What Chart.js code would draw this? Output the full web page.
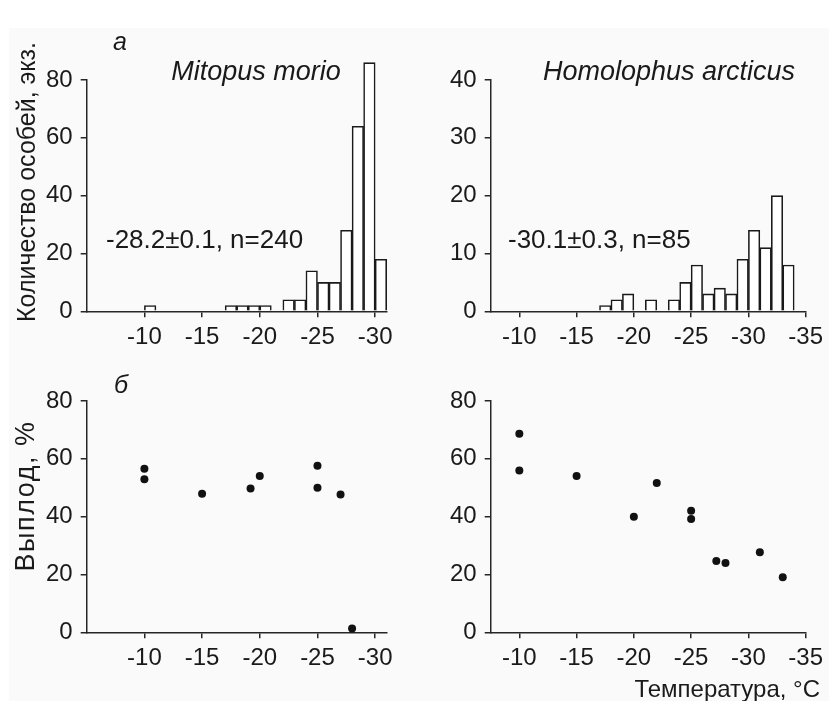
<!DOCTYPE html>
<html>
<head>
<meta charset="utf-8">
<script src="https://cdn.jsdelivr.net/npm/chart.js@4.4.1/dist/chart.umd.min.js"></script>
<style>
  html, body { margin: 0; padding: 0; background: #ffffff; }
  #wrap { position: relative; width: 829px; height: 701px; overflow: hidden; background: #ffffff; }
  #bg { position: absolute; left: 9px; top: 28px; right: 0; bottom: 0; background: #fafafa; }
  canvas { position: absolute; left: 0; top: 0; }
  .lbl { position: absolute; white-space: nowrap; font-family: 'Liberation Sans', Arial, sans-serif; color: #1a1a1a; line-height: 1; }
  .it { font-style: italic; }
  .rot { transform: translate(-50%, -50%) rotate(-90deg); }
</style>
</head>
<body>
<div id="wrap">
  <div id="bg"></div>
  <canvas id="c1" width="829" height="701"></canvas>
  <canvas id="c2" width="829" height="701"></canvas>
  <canvas id="c3" width="829" height="701"></canvas>
  <canvas id="c4" width="829" height="701"></canvas>
</div>
<script>
// ---------- data ----------
const xTicksLeft  = [-10, -15, -20, -25, -30];
const xTicksRight = [-10, -15, -20, -25, -30, -35];

// histogram bins (1 °C wide, given by bin centre) and counts
const mitopusBinCentres = [-10.5, -17.5, -18.5, -19.5, -20.5, -22.5, -23.5, -24.5, -25.5, -26.5, -27.5, -28.5, -29.5, -30.5];
const mitopusCounts     = [2, 2, 2, 2, 2, 4, 4, 14, 10, 10, 28, 64, 86, 18];

const homolophusBinCentres = [-17.5, -18.5, -19.5, -21.5, -23.5, -24.5, -25.5, -26.5, -27.5, -28.5, -29.5, -30.5, -31.5, -32.5, -33.5];
const homolophusCounts     = [1, 2, 3, 2, 2, 5, 8, 3, 4, 3, 9, 14, 11, 20, 8];

// emergence (%) vs temperature
const mitopusTemps     = [-10, -10, -15, -19.2, -20, -25, -25, -27, -28];
const mitopusEmergence = [56.6, 52.9, 47.9, 49.7, 54.1, 57.6, 50.0, 47.7, 1.3];

const homolophusTemps     = [-10, -10, -15, -20, -22, -25, -25, -27.2, -28, -31, -33];
const homolophusEmergence = [68.7, 56.0, 54.1, 40.0, 51.6, 42.0, 39.2, 24.7, 24.0, 27.7, 19.0];

// ---------- helpers ----------
const FONT = "'Liberation Sans', Arial, sans-serif";
const W = 829, H = 701;
const Y_W = 60, X_H = 50;
const AX = '#262626';

function pairs(xs, ys) { return xs.map((x, i) => ({ x: x, y: ys[i] })); }

function makeChart(id, type, dataset, area, xMin, xMax, xTicks, yMax, yStep) {
  return new Chart(document.getElementById(id), {
    type: type,
    data: { datasets: [dataset] },
    options: {
      responsive: false,
      animation: false,
      devicePixelRatio: 1,
      layout: { padding: { left: area.l - Y_W, top: area.t, right: W - area.r, bottom: H - area.b - X_H } },
      plugins: { legend: { display: false }, tooltip: { enabled: false } },
      scales: {
        x: {
          type: 'linear', reverse: true, min: xMin, max: xMax, offset: false,
          grid: { display: true, drawOnChartArea: false, drawTicks: true, tickLength: 6, color: AX, lineWidth: 1.5, offset: false },
          border: { display: true, color: AX, width: 1.5 },
          ticks: { color: '#1a1a1a', font: { family: FONT, size: 24 }, padding: 6, maxRotation: 0, autoSkip: false },
          afterBuildTicks: (s) => { s.ticks = xTicks.map(v => ({ value: v })); },
          afterFit: (s) => { s.height = X_H; }
        },
        y: {
          type: 'linear', min: 0, max: yMax,
          grid: { display: true, drawOnChartArea: false, drawTicks: true, tickLength: 6, color: AX, lineWidth: 1.5 },
          border: { display: true, color: AX, width: 1.5 },
          ticks: { stepSize: yStep, color: '#1a1a1a', font: { family: FONT, size: 24 }, padding: 8 },
          afterFit: (s) => { s.width = Y_W; }
        }
      }
    }
  });
}

function barSet(xs, ys) {
  return {
    data: pairs(xs, ys),
    backgroundColor: '#ffffff',
    borderColor: '#1a1a1a',
    borderWidth: 1.6,
    barPercentage: 1,
    categoryPercentage: 1,
    clip: false
  };
}
function dotSet(xs, ys) {
  return {
    data: pairs(xs, ys),
    pointRadius: 4,
    pointBackgroundColor: '#111111',
    pointBorderWidth: 0,
    showLine: false,
    clip: false
  };
}

makeChart('c1', 'bar', barSet(mitopusBinCentres, mitopusCounts),
  { l: 86.7, t: 80, r: 386.7, b: 311.3 }, -31, -5, xTicksLeft, 80, 20);
makeChart('c2', 'bar', barSet(homolophusBinCentres, homolophusCounts),
  { l: 490.7, t: 80, r: 808, b: 311.3 }, -35, -7.5, xTicksRight, 40, 10);
makeChart('c3', 'scatter', dotSet(mitopusTemps, mitopusEmergence),
  { l: 86.7, t: 401, r: 386.7, b: 632.3 }, -31, -5, xTicksLeft, 80, 20);
makeChart('c4', 'scatter', dotSet(homolophusTemps, homolophusEmergence),
  { l: 490.7, t: 401, r: 808, b: 632.3 }, -35, -7.5, xTicksRight, 80, 20);

// ---------- text labels ----------
const wrap = document.getElementById('wrap');
function addText(txt, size, x, baseline, opts) {
  opts = opts || {};
  const d = document.createElement('div');
  d.className = 'lbl' + (opts.italic ? ' it' : '');
  d.textContent = txt;
  d.style.fontSize = size + 'px';
  d.style.top = (baseline - 0.8465 * size) + 'px';
  if (opts.align === 'right') { d.style.right = (W - x) + 'px'; }
  else if (opts.align === 'center') { d.style.left = x + 'px'; d.style.transform = 'translateX(-50%)'; }
  else { d.style.left = x + 'px'; }
  wrap.appendChild(d);
}
function addRot(txt, size, cx, cy, spacing) {
  const d = document.createElement('div');
  d.className = 'lbl rot';
  d.textContent = txt;
  d.style.fontSize = size + 'px';
  if (spacing) d.style.letterSpacing = spacing + 'px';
  d.style.left = cx + 'px';
  d.style.top = cy + 'px';
  wrap.appendChild(d);
}

addText('а', 25, 113, 50, { italic: true });
addText('б', 25, 114, 393, { italic: true });
addText('Mitopus morio', 27, 256, 81, { italic: true, align: 'center' });
addText('Homolophus arcticus', 27, 669, 81, { italic: true, align: 'center' });
addText('-28.2±0.1, n=240', 26, 106, 248.5);
addText('-30.1±0.3, n=85', 26, 508, 248.5);
addText('Температура, °C', 24, 820, 697, { align: 'right' });
addRot('Количество особей, экз.', 25, 26, 182);
addRot('Выплод, %', 27, 25, 496, 1.5);
</script>
</body>
</html>
